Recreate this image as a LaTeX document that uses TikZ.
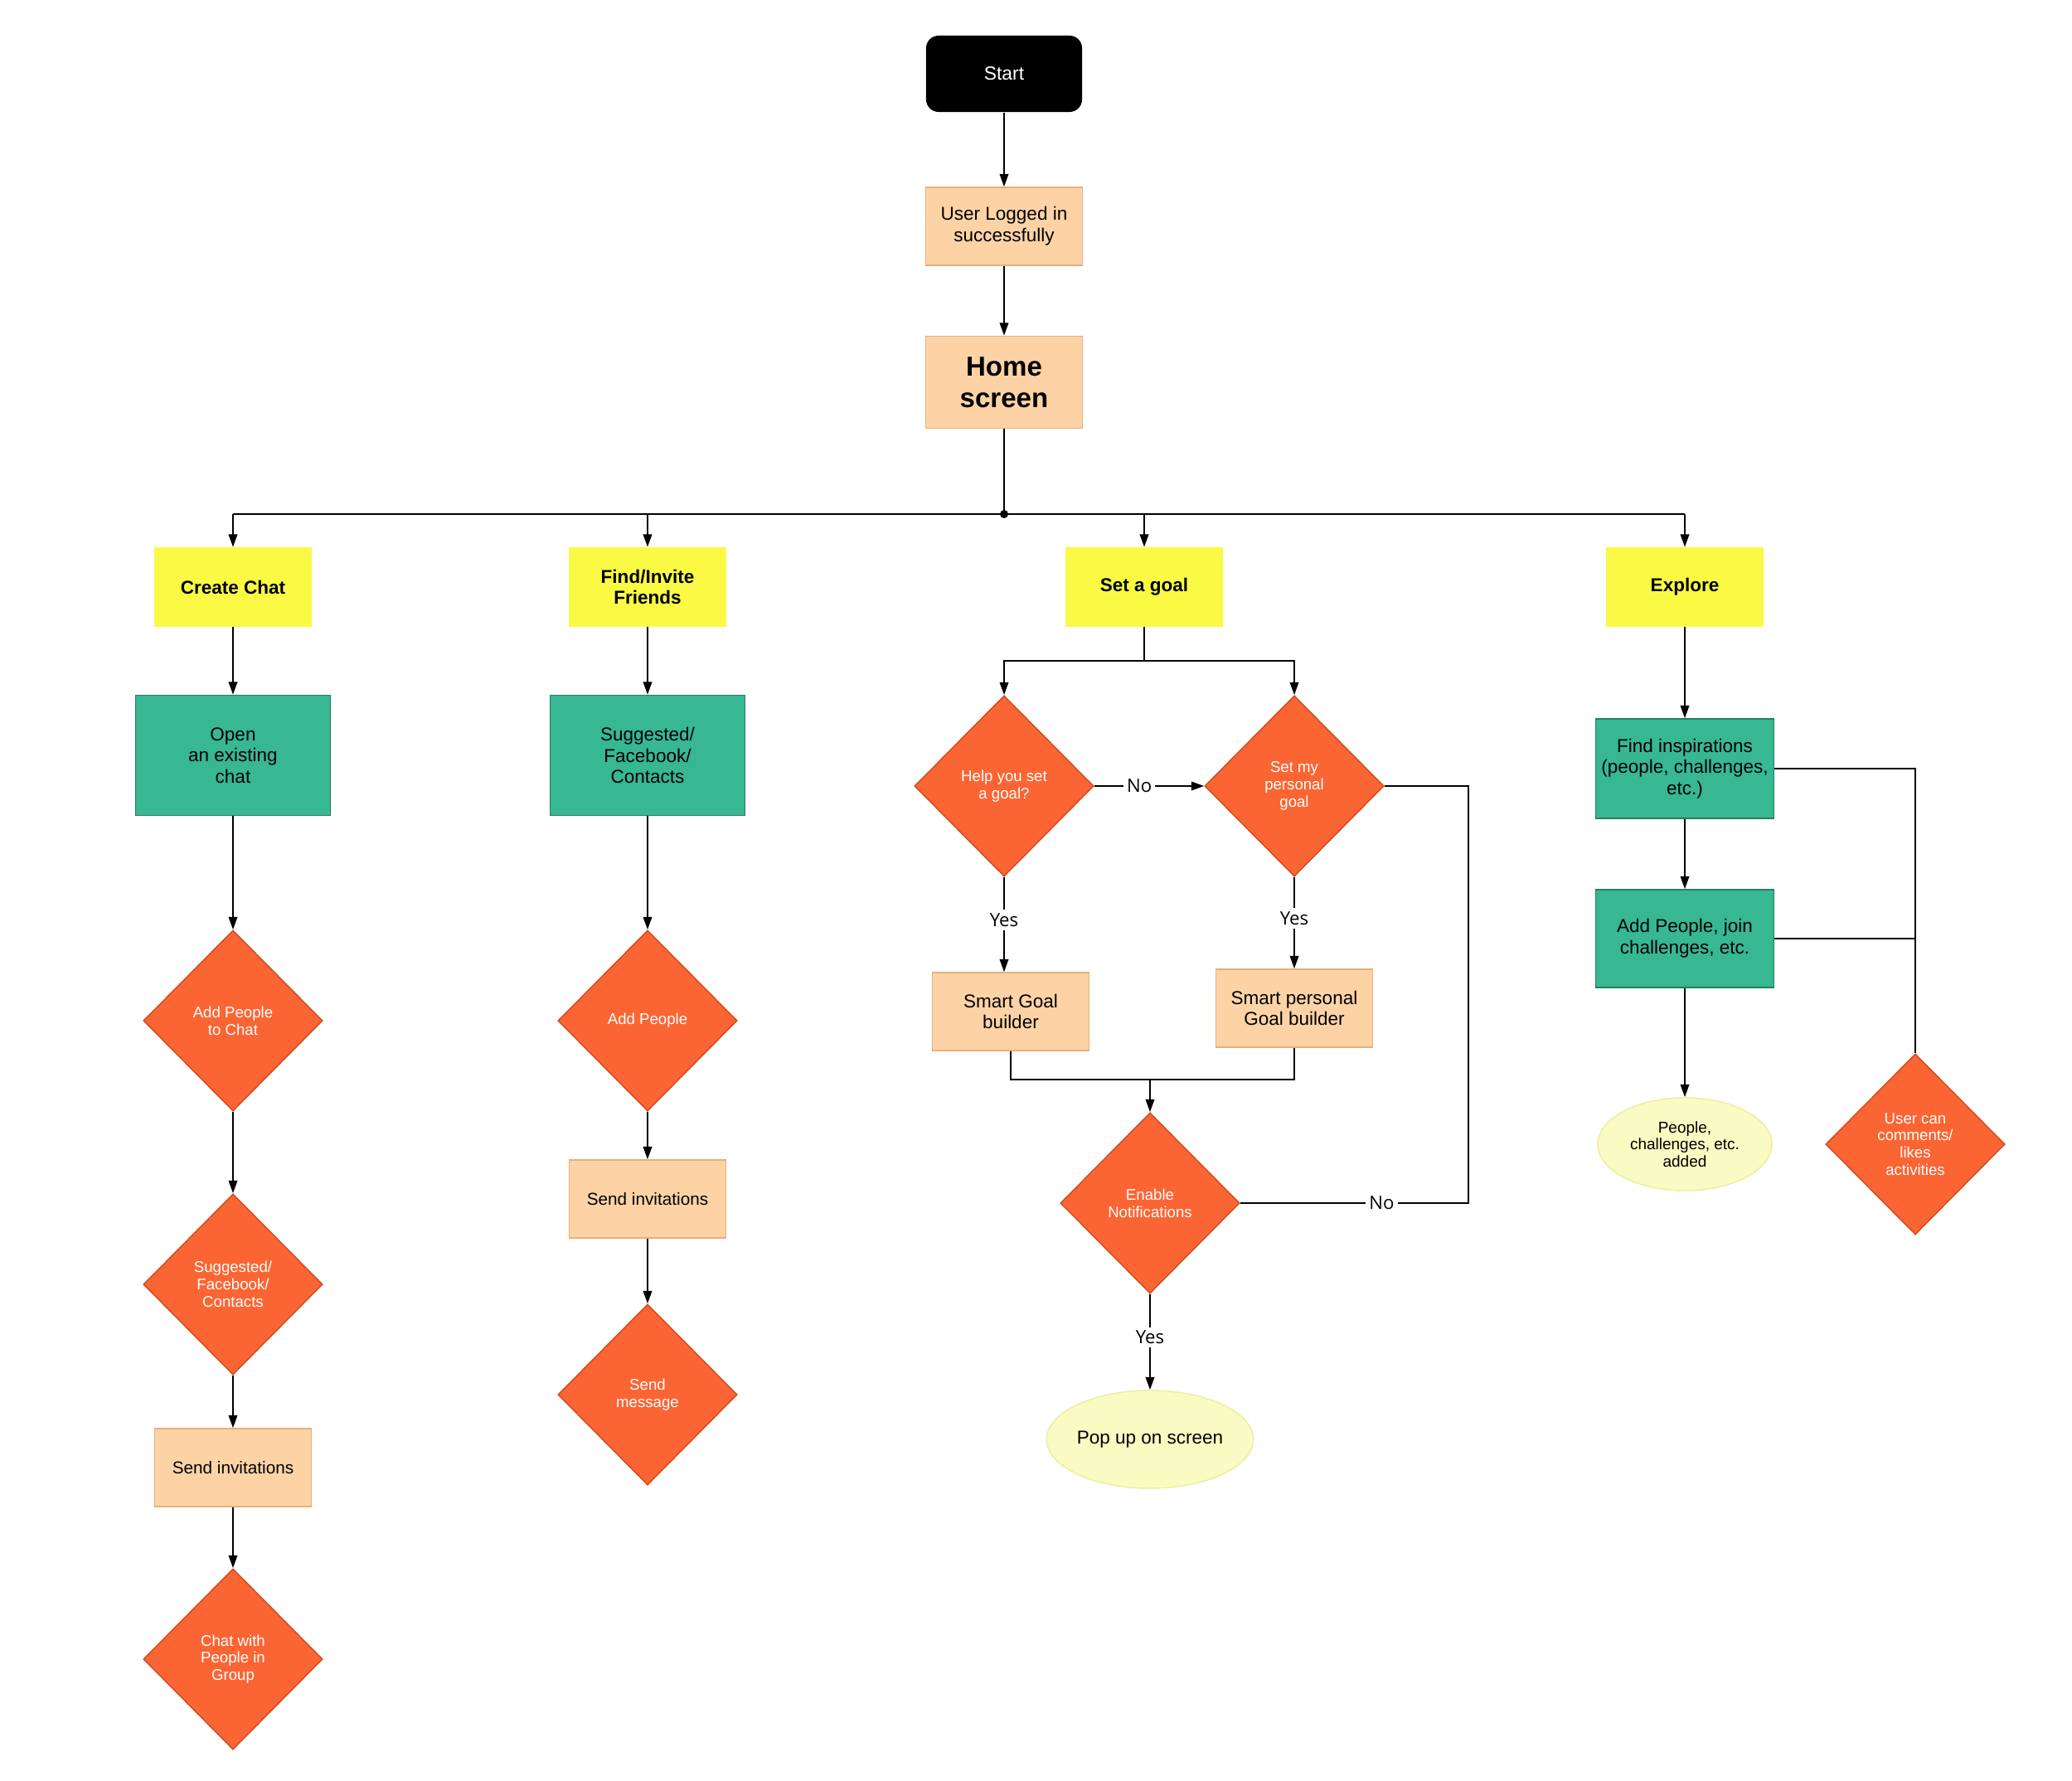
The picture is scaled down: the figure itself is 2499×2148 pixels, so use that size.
\documentclass[tikz,border=0pt]{standalone}
\usepackage{fontspec}
\setmainfont{Liberation Sans}
\newfontfamily\answerfont{Open Sans}
\usetikzlibrary{positioning, arrows.meta, shapes.geometric}
\definecolor{peach}{HTML}{FDD3A6}
\definecolor{peachline}{HTML}{E9AE79}
\definecolor{lemon}{HTML}{FAFA44}
\definecolor{mint}{HTML}{37B792}
\definecolor{mintline}{HTML}{24805F}
\definecolor{tangerine}{HTML}{FB6533}
\definecolor{tangline}{HTML}{D04A1C}
\definecolor{cream}{HTML}{FAFAC3}
\definecolor{creamline}{HTML}{EDED9E}

\tikzset{
  base/.style={align=center, inner sep=1pt, line width=0.4pt},
  startbox/.style={base, rectangle, rounded corners=4.3pt, fill=black, text=white,
    minimum width=1.88cm, minimum height=0.92cm, font=\fontsize{6.5}{7.7}\selectfont},
  peachbox/.style={base, draw=peachline, fill=peach, minimum width=1.89cm,
    minimum height=0.94cm, font=\fontsize{6.4}{7.3}\selectfont},
  headbox/.style={base, fill=lemon, minimum width=1.9cm, minimum height=0.95cm,
    font=\bfseries\fontsize{6.4}{7.3}\selectfont},
  greenbox/.style={base, draw=mintline, fill=mint, minimum width=2.35cm,
    minimum height=1.45cm, font=\fontsize{6.4}{7.3}\selectfont},
  decision/.style={base, diamond, draw=tangline, fill=tangerine, text=white,
    minimum width=2.16cm, minimum height=2.18cm, inner sep=0pt,
    font=\fontsize{5.3}{5.9}\selectfont},
  endpoint/.style={base, ellipse, draw=creamline, fill=cream, inner sep=0pt},
  flow/.style={line width=0.6pt, -{Triangle[length=4.4pt, width=3pt]}},
  plain/.style={line width=0.6pt},
  answer/.style={fill=white, inner sep=1.2pt, font=\answerfont\fontsize{6.3}{7}\selectfont}
}

\begin{document}
\begin{tikzpicture}[x=0.01cm, y=-0.01cm]
  \useasboundingbox (0,0) rectangle (2499,2148);
  % Einstieg
  \node[startbox] (start) at (1211,89) {Start};
  \node[peachbox] (login) at (1211,273) {User Logged in\\successfully};
  \node[peachbox, minimum height=1.11cm,
    font=\bfseries\fontsize{9.4}{10.8}\selectfont] (home) at (1211,461) {Home\\screen};
  \coordinate (hub) at (1211,620);
  \draw[flow] (start) -- (login);
  \draw[flow] (login) -- (home);
  \draw[plain] (home) -- (hub);
  \fill (hub) circle[radius=0.05cm];

  % Hauptbereiche
  \node[headbox] (chat) at (281,708) {Create Chat};
  \node[headbox] (friends) at (781,708) {Find/Invite\\Friends};
  \node[headbox] (goal) at (1380,708) {Set a goal};
  \node[headbox] (explore) at (2032,708) {Explore};
  \draw[plain] (chat |- hub) -- (explore |- hub);
  \foreach \area in {chat, friends, goal, explore}
    \draw[flow] (\area |- hub) -- (\area);

  % Spalte: Chat
  \node[greenbox] (openchat) at (281,911) {Open\\an existing\\chat};
  \node[decision] (addchat) at (281,1231) {Add People\\to Chat};
  \node[decision] (suggchat) at (281,1549) {Suggested/\\Facebook/\\Contacts};
  \node[peachbox, font=\fontsize{5.9}{7}\selectfont] (invitechat) at (281,1770) {Send invitations};
  \node[decision] (groupchat) at (281,2001) {Chat with\\People in\\Group};
  \draw[flow] (chat) -- (openchat);
  \draw[flow] (openchat) -- (addchat);
  \draw[flow] (addchat) -- (suggchat);
  \draw[flow] (suggchat) -- (invitechat);
  \draw[flow] (invitechat) -- (groupchat);

  % Spalte: Freunde
  \node[greenbox] (suggfriends) at (781,911) {Suggested/\\Facebook/\\Contacts};
  \node[decision] (addfriends) at (781,1231) {Add People};
  \node[peachbox, font=\fontsize{5.9}{7}\selectfont] (invitefriends) at (781,1446) {Send invitations};
  \node[decision] (sendmsg) at (781,1682) {Send\\message};
  \draw[flow] (friends) -- (suggfriends);
  \draw[flow] (suggfriends) -- (addfriends);
  \draw[flow] (addfriends) -- (invitefriends);
  \draw[flow] (invitefriends) -- (sendmsg);

  % Spalte: Ziele
  \coordinate (split) at (1380,797);
  \node[decision] (helpgoal) at (1211,948) {Help you set\\a goal?};
  \node[decision] (owngoal) at (1561,948) {Set my\\personal\\goal};
  \node[peachbox] (smartgoal) at (1219,1220) {Smart Goal\\builder};
  \node[peachbox] (smartown) at (1561,1216) {Smart personal\\Goal builder};
  \coordinate (merge) at (1387,1302);
  \node[decision] (notify) at (1387,1451) {Enable\\Notifications};
  \node[endpoint, minimum width=2.48cm, minimum height=1.18cm,
    font=\fontsize{6.4}{7.3}\selectfont] (popup) at (1387,1736) {Pop up on screen};
  \coordinate (loop) at (1771,1451);
  \draw[plain] (goal) -- (split);
  \draw[flow] (split) -| (helpgoal);
  \draw[flow] (split) -| (owngoal);
  \draw[flow] (helpgoal) -- node[answer, pos=0.41] {No} (owngoal);
  \draw[flow] (helpgoal.south) -- node[answer, pos=0.45] {Yes} (helpgoal.south |- smartgoal.north);
  \draw[flow] (owngoal) -- node[answer, pos=0.45] {Yes} (smartown);
  \draw[plain] (smartgoal.south) |- (merge) -| (smartown.south);
  \draw[flow] (merge) -- (notify);
  \draw[plain] (notify) -- node[answer, pos=0.62] {No} (loop) |- (owngoal);
  \draw[flow] (notify) -- node[answer, pos=0.45] {Yes} (popup);

  % Spalte: Entdecken
  \node[greenbox, minimum width=2.15cm, minimum height=1.2cm] (inspire) at (2032,927)
    {Find inspirations\\(people, challenges,\\etc.)};
  \node[greenbox, minimum width=2.15cm, minimum height=1.18cm] (join) at (2032,1132)
    {Add People, join\\challenges, etc.};
  \node[endpoint, minimum width=2.1cm, minimum height=1.12cm,
    font=\fontsize{5.4}{5.9}\selectfont] (added) at (2032,1380) {People,\\challenges, etc.\\added};
  \node[decision] (comment) at (2310,1380) {User can\\comments/\\likes\\activities};
  \coordinate (side) at (2310,1132);
  \draw[flow] (explore) -- (inspire);
  \draw[flow] (inspire) -- (join);
  \draw[flow] (join) -- (added);
  \draw[plain] (inspire) -| (comment);
  \draw[plain] (join) -- (side);
\end{tikzpicture}
\end{document}
